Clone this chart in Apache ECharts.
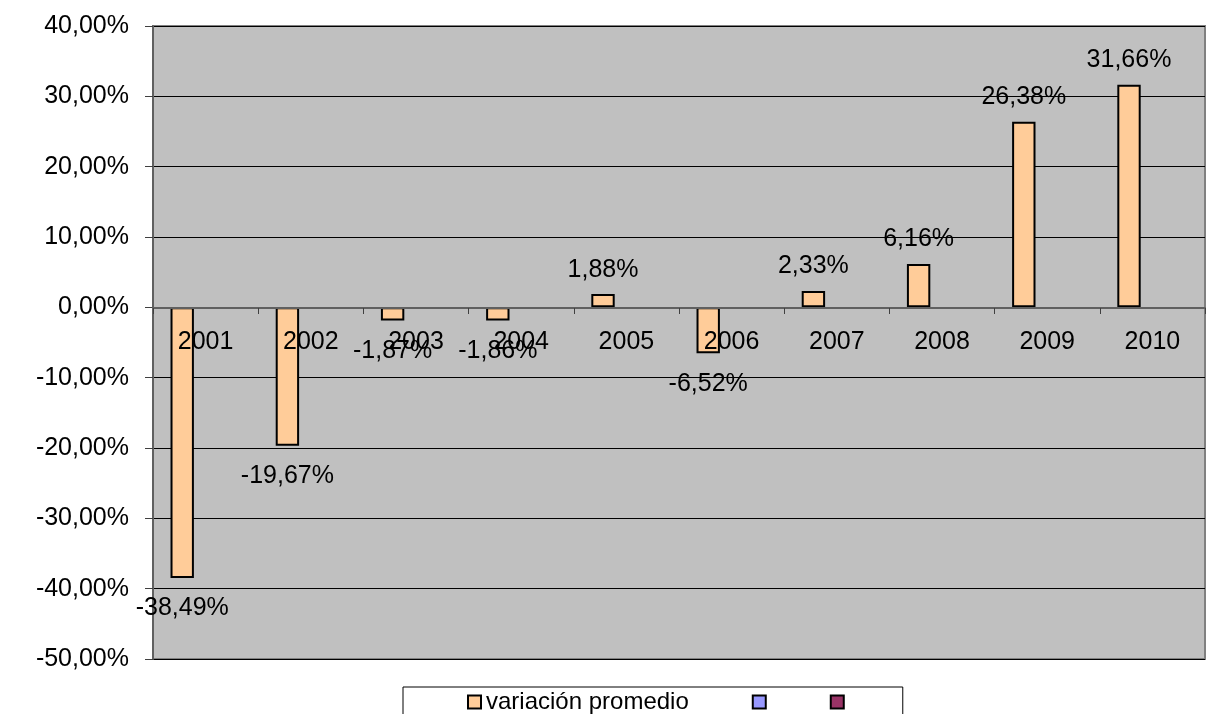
<!DOCTYPE html>
<html>
    <head>
        <meta charset="utf-8"/>
        <script src="https://cdn.jsdelivr.net/npm/echarts@6.0.0/dist/echarts.min.js"></script>
    </head>
	<body style="margin:0">
        <div id="main" style="width: 1211px;height: 714px;"></div>
		<script>
			// datos
			var anios = ['2001', '2002', '2003', '2004', '2005', '2006', '2007', '2008', '2009', '2010'];
			var variacion = [-38.49, -19.67, -1.87, -1.86, 1.88, -6.52, 2.33, 6.16, 26.38, 31.66];
			var serie2 = [];
			var serie3 = [];

			var fuente = 'Liberation Sans, Arial, sans-serif';
			function pct(v) {
				return v.toFixed(2).replace('.', ',') + '%';
			}

			var myChart = echarts.init(document.getElementById('main'));
			myChart.setOption({
			  animation: false,
			  grid: {
				left: 153, top: 26, right: 6, bottom: 55,
				show: true,
				backgroundColor: '#C0C0C0',
				borderColor: '#808080',
				borderWidth: 2
			  },
			  legend: {
				left: 403, top: 687,
				borderColor: '#000',
				borderWidth: 1,
				padding: [3, 58, 8, 64],
				itemWidth: 13, itemHeight: 13,
				itemGap: 63,
				itemStyle: { borderColor: '#000', borderWidth: 2 },
				textStyle: { fontSize: 24, fontFamily: fuente, color: '#000' },
				data: [
				  { name: 'variación promedio', icon: 'rect' },
				  { name: 'serie2', icon: 'rect' },
				  { name: 'serie3', icon: 'rect' }
				],
				formatter: function (name) {
				  return name === 'variación promedio' ? name : '';
				}
			  },
			  xAxis: {
				type: 'category',
				data: anios,
				z: 5,
				position: 'bottom',
				offset: -351,
				axisLine: { onZero: false, lineStyle: { color: '#606060', width: 2 } },
				axisTick: { show: true, alignWithLabel: false, length: 6, lineStyle: { color: '#404040' } },
				axisLabel: { margin: 22, fontSize: 25, fontFamily: fuente, color: '#000', interval: 0 },
				splitLine: { show: false }
			  },
			  yAxis: {
				type: 'value',
				min: -50, max: 40, interval: 10,
				axisLine: { show: true, lineStyle: { color: '#606060', width: 2 } },
				axisTick: { show: true, length: 8, lineStyle: { color: '#404040' } },
				axisLabel: { margin: 24, fontSize: 25, fontFamily: fuente, color: '#000', formatter: pct },
				splitLine: { lineStyle: { color: '#000', width: 1 } }
			  },
			  series: [
				{
				  name: 'variación promedio',
				  type: 'bar',
				  barGap: 0,
				  barCategoryGap: '33.3%',
				  color: '#FFCC99',
				  itemStyle: { borderColor: '#000', borderWidth: 2 },
				  label: {
					show: true,
					fontSize: 25, fontFamily: fuente, color: '#000',
					formatter: function (p) { return pct(p.value); }
				  },
				  data: variacion.map(function (v) {
					return { value: v, label: { position: v < 0 ? 'bottom' : 'top', distance: v < 0 ? 18 : 12 } };
				  })
				},
				{ name: 'serie2', type: 'bar', color: '#9999FF', itemStyle: { borderColor: '#000', borderWidth: 2 }, data: serie2 },
				{ name: 'serie3', type: 'bar', color: '#993366', itemStyle: { borderColor: '#000', borderWidth: 2 }, data: serie3 }
			  ]
			});
		</script>
  </body>
</html>
